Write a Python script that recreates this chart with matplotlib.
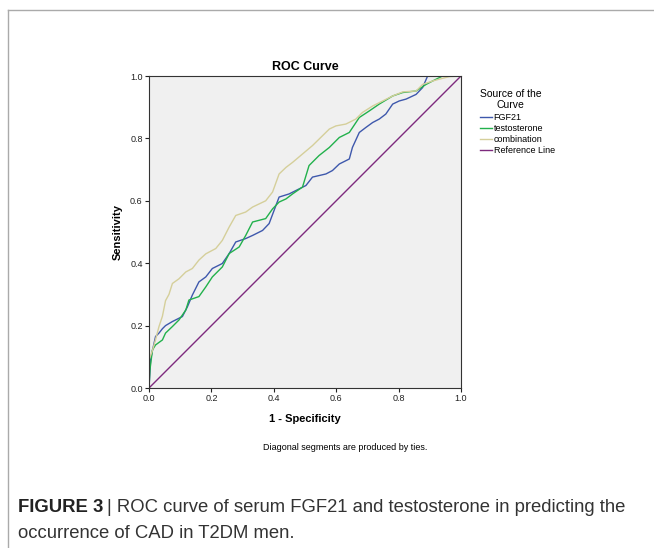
import matplotlib
matplotlib.use("Agg")
import matplotlib.pyplot as plt
from matplotlib.lines import Line2D

plt.rcParams['font.family'] = ['Liberation Sans', 'DejaVu Sans']

# ROC points (1 - specificity, sensitivity)
fgf21_x = [0.0, 0.005, 0.011, 0.021, 0.032, 0.043, 0.053, 0.075, 0.107, 0.123, 0.139,
           0.160, 0.182, 0.203, 0.235, 0.257, 0.278, 0.310, 0.332, 0.364, 0.385, 0.417,
           0.449, 0.481, 0.503, 0.524, 0.567, 0.588, 0.610, 0.642, 0.652, 0.674, 0.695,
           0.717, 0.738, 0.759, 0.781, 0.802, 0.824, 0.856, 0.877, 0.893, 1.0]
fgf21_y = [0.0, 0.090, 0.120, 0.165, 0.176, 0.190, 0.200, 0.213, 0.229, 0.260, 0.298,
           0.340, 0.356, 0.383, 0.399, 0.431, 0.468, 0.479, 0.489, 0.505, 0.527, 0.612,
           0.622, 0.638, 0.649, 0.676, 0.686, 0.697, 0.718, 0.734, 0.771, 0.819, 0.835,
           0.851, 0.862, 0.878, 0.910, 0.920, 0.926, 0.941, 0.963, 1.0, 1.0]

testo_x = [0.0, 0.003, 0.011, 0.021, 0.043, 0.053, 0.075, 0.096, 0.118, 0.128, 0.160,
           0.182, 0.203, 0.235, 0.257, 0.289, 0.310, 0.332, 0.374, 0.396, 0.417, 0.439,
           0.460, 0.492, 0.513, 0.545, 0.578, 0.610, 0.642, 0.674, 0.706, 0.738, 0.781,
           0.813, 0.856, 0.888, 0.909, 0.941, 1.0]
testo_y = [0.0, 0.058, 0.122, 0.138, 0.154, 0.176, 0.197, 0.218, 0.250, 0.282, 0.293,
           0.324, 0.356, 0.388, 0.431, 0.452, 0.489, 0.532, 0.543, 0.574, 0.596, 0.606,
           0.622, 0.644, 0.713, 0.745, 0.771, 0.803, 0.819, 0.867, 0.888, 0.910, 0.936,
           0.947, 0.952, 0.973, 0.984, 1.0, 1.0]

combo_x = [0.0, 0.0, 0.011, 0.021, 0.032, 0.043, 0.053, 0.064, 0.075, 0.096, 0.118,
           0.139, 0.160, 0.182, 0.214, 0.235, 0.257, 0.278, 0.310, 0.332, 0.353, 0.374,
           0.396, 0.417, 0.439, 0.460, 0.492, 0.524, 0.578, 0.599, 0.631, 0.663, 0.684,
           0.717, 0.749, 0.781, 0.813, 0.856, 0.877, 0.909, 0.931, 0.963, 1.0]
combo_y = [0.0, 0.090, 0.120, 0.155, 0.197, 0.230, 0.280, 0.300, 0.335, 0.350, 0.372,
           0.383, 0.410, 0.430, 0.447, 0.473, 0.516, 0.553, 0.564, 0.580, 0.590, 0.600,
           0.628, 0.686, 0.707, 0.723, 0.750, 0.777, 0.830, 0.840, 0.846, 0.862, 0.883,
           0.904, 0.920, 0.936, 0.949, 0.952, 0.973, 0.984, 0.990, 0.998, 1.0]

ref_x = [0.0, 1.0]
ref_y = [0.0, 1.0]

series = [
    ("FGF21", fgf21_x, fgf21_y, "#3e58ac"),
    ("testosterone", testo_x, testo_y, "#22b14c"),
    ("combination", combo_x, combo_y, "#d5cf9a"),
    ("Reference Line", ref_x, ref_y, "#7d2a7d"),
]

fig = plt.figure(figsize=(6.54, 5.48), dpi=100)
ax = fig.add_axes([149 / 654, 1 - 388 / 548, 312 / 654, 312 / 548])
ax.set_facecolor("#f0f0f0")

for name, xs, ys, col in series:
    ax.plot(xs, ys, color=col, lw=1.0, label=name)

ax.set_xlim(0, 1)
ax.set_ylim(0, 1)
ticks = [0.0, 0.2, 0.4, 0.6, 0.8, 1.0]
ax.set_xticks(ticks)
ax.set_yticks(ticks)
ax.set_xticklabels([f"{t:.1f}" for t in ticks])
ax.set_yticklabels([f"{t:.1f}" for t in ticks])
ax.tick_params(labelsize=6.5, length=3, width=0.8, pad=1.5, colors="#222222")
for sp in ax.spines.values():
    sp.set_color("#333333")
    sp.set_linewidth(0.8)

ax.set_title("ROC Curve", fontsize=9, fontweight="bold", pad=4)
ax.set_xlabel("1 - Specificity", fontsize=8, fontweight="bold", labelpad=8)
ax.set_ylabel("Sensitivity", fontsize=8, fontweight="bold", labelpad=5)

leg = ax.legend(loc="upper left", bbox_to_anchor=(1.035, 0.985), frameon=False,
                title="Source of the\nCurve", fontsize=6.5, title_fontsize=7.5,
                handlelength=1.3, handletextpad=0.2, labelspacing=0.25)
leg._legend_box.align = "left"
leg.get_title().set_ha("center")

fig.text(345 / 654, 1 - 448 / 548, "Diagonal segments are produced by ties.",
         ha="center", va="center", fontsize=6.5)

# outer frame lines (top and left)
fig.add_artist(Line2D([8 / 654, 1], [1 - 10 / 548, 1 - 10 / 548], color="#aaaaaa", lw=1))
fig.add_artist(Line2D([8 / 654, 8 / 654], [0, 1 - 10 / 548], color="#aaaaaa", lw=1))

# caption
cap_font = ['Liberation Sans Narrow', 'Liberation Sans', 'DejaVu Sans']
t1 = fig.text(18 / 654, 1 - 507 / 548, "FIGURE 3", fontsize=13.3, fontweight="bold",
              family=cap_font, va="center", color="#222222")
fig.canvas.draw()
bb = t1.get_window_extent(fig.canvas.get_renderer())
x2 = (bb.x1 + 4) / 654
fig.text(x2, 1 - 507 / 548, "| ROC curve of serum FGF21 and testosterone in predicting the",
         fontsize=13.3, family=cap_font, va="center", color="#333333")
fig.text(18 / 654, 1 - 533 / 548, "occurrence of CAD in T2DM men.",
         fontsize=13.3, family=cap_font, va="center", color="#333333")

fig.savefig("out.png", dpi=100)
